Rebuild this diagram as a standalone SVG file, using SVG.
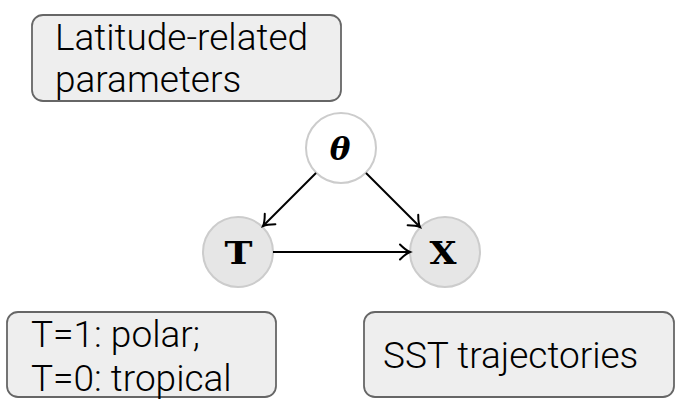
<svg xmlns="http://www.w3.org/2000/svg" width="677" height="420" viewBox="0 0 677 420">
<style>
.box{fill:#eeeeee;stroke:#666666;stroke-width:1.8}
.lbl{font-family:Roboto,"Liberation Sans",sans-serif;font-weight:300;font-size:37px;fill:#000}
.var{fill:#e6e6e6;stroke:#cccccc;stroke-width:2}
.par{fill:#ffffff;stroke:#cccccc;stroke-width:2}
.math{font-family:"DejaVu Serif","Liberation Serif",serif;font-weight:bold;font-size:31px;fill:#000;text-anchor:middle}
.edge{stroke:#000;stroke-width:2;fill:none}
</style>
<defs>
<marker id="arr" markerUnits="userSpaceOnUse" markerWidth="20" markerHeight="20" viewBox="-12 -10 14 20" refX="0" refY="0" orient="auto">
<path d="M -10 -7.5 Q -4 -1.5 0 0 Q -4 1.5 -10 7.5" fill="none" stroke="#000" stroke-width="2" stroke-linecap="round"/>
</marker>
</defs>
<g id="latitude-params">
<rect class="box" x="32" y="15" width="309" height="86" rx="11"/>
<text class="lbl" x="55" y="50">Latitude-related</text>
<text class="lbl" x="55" y="92">parameters</text>
</g>
<g id="T-def">
<rect class="box" x="7" y="312" width="269" height="85" rx="11"/>
<text class="lbl" x="31" y="347">T=1: polar;</text>
<text class="lbl" x="31" y="391">T=0: tropical</text>
</g>
<g id="sst">
<rect class="box" x="364" y="312" width="310" height="85" rx="11"/>
<text class="lbl" x="383" y="368">SST trajectories</text>
</g>
<g id="theta">
<circle class="par" cx="341" cy="148" r="35"/>
<text class="math" x="340" y="160" font-style="italic" font-size="30">θ</text>
</g>
<g id="T">
<circle class="var" cx="238" cy="252" r="35"/>
<text class="math" x="238.5" y="264" textLength="28" lengthAdjust="spacingAndGlyphs">T</text>
</g>
<g id="X">
<circle class="var" cx="445" cy="252" r="35"/>
<text class="math" x="443" y="264" textLength="27" lengthAdjust="spacingAndGlyphs">X</text>
</g>
<g id="connectors">
<line class="edge" x1="316" y1="173" x2="263" y2="226" marker-end="url(#arr)"/>
<line class="edge" x1="366" y1="173" x2="420" y2="227" marker-end="url(#arr)"/>
<line class="edge" x1="273" y1="252" x2="410" y2="252" marker-end="url(#arr)"/>
</g>
</svg>
